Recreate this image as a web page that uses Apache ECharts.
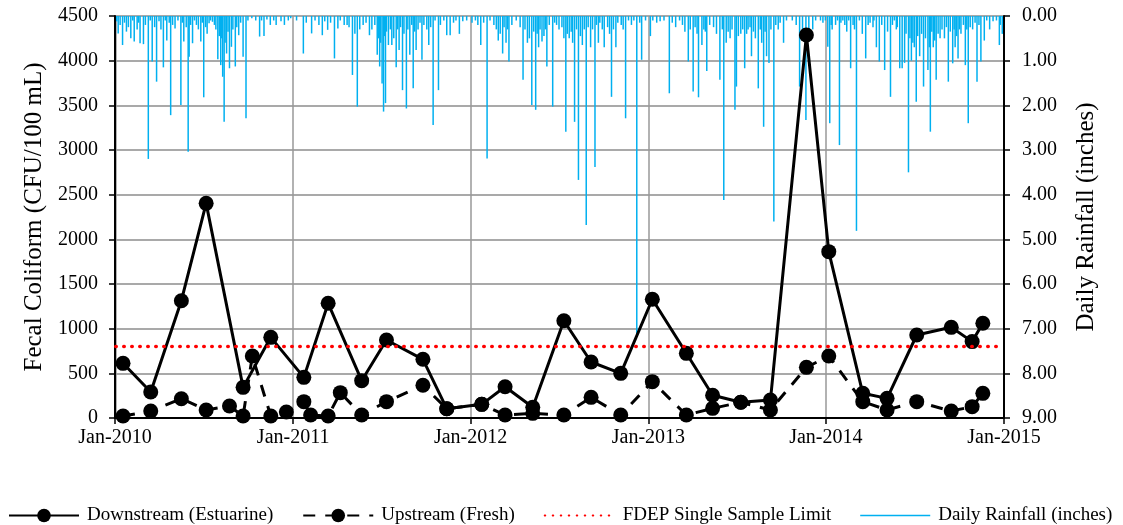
<!DOCTYPE html>
<html>
<head>
<meta charset="utf-8">
<script src="https://cdn.jsdelivr.net/npm/echarts@6/dist/echarts.min.js"></script>
<style>
html, body { margin: 0; padding: 0; background: #fff; }
#chart { width: 1123px; height: 525px; }
</style>
</head>
<body>
<div id="chart"></div>
<script>
// sampling dates and fecal coliform results (CFU/100 mL)
const downDates = ['2010-01-16','2010-03-14','2010-05-16','2010-07-06','2010-09-20','2010-11-16',
    '2011-01-23','2011-03-14','2011-05-22','2011-07-12','2011-09-25','2011-11-13',
    '2012-01-24','2012-03-12','2012-05-08','2012-07-11','2012-09-05','2012-11-05',
    '2013-01-09','2013-03-20','2013-05-13','2013-07-10','2013-09-09','2013-11-22',
    '2014-01-07','2014-03-18','2014-05-07','2014-07-07','2014-09-16','2014-10-29','2014-11-20'];
const downValues = [612, 291, 1313, 2403, 343, 903,
    455, 1284, 418, 873, 657, 104,
    153, 350, 120, 1089, 627, 500,
    1329, 724, 254, 176, 201, 4287,
    1862, 276, 220, 929, 1015, 855, 1060];

const upDates = ['2010-01-16','2010-03-14','2010-05-16','2010-07-06','2010-08-23','2010-09-20','2010-10-09',
    '2010-11-16','2010-12-18','2011-01-23','2011-02-06','2011-03-14','2011-04-08','2011-05-22',
    '2011-07-12','2011-09-25','2011-11-13','2012-01-24','2012-03-12','2012-05-08','2012-07-11',
    '2012-09-05','2012-11-05','2013-01-09','2013-03-20','2013-05-13','2013-07-10','2013-09-09',
    '2013-11-22','2014-01-07','2014-03-18','2014-05-07','2014-07-07','2014-09-16','2014-10-29','2014-11-20'];
const upValues = [22, 78, 216, 90, 134, 22, 694,
    22, 67, 183, 34, 22, 284, 34,
    183, 366, 104, 153, 34, 52, 34,
    231, 34, 407, 34, 108, 176, 90,
    567, 694, 183, 90, 183, 78, 127, 276];

const limitDates = ['2010-01-01', '2015-01-01'];
const limitValue = 800;

// daily rainfall: [days since 2010-01-01, inches]
const rainfall = [
    [2,0.12],[5,0.39],[9,0.2],[14,0.65],[18,0.15],[22,0.35],[26,0.25],[31,0.5],[35,0.1],[38,0.57],
    [44,0.3],[47,0.15],[50,0.61],[57,0.63],[61,0.2],[67,3.2],[71,0.1],[75,1.02],[80,0.25],[84,1.47],
    [89,0.12],[93,0.3],[98,1.15],[102,0.1],[105,0.55],[110,0.15],[113,2.22],[117,0.2],[122,0.28],[128,0.1],
    [134,1.99],[137,0.15],[140,0.57],[145,0.25],[149,3.04],[151,0.91],[154,0.2],[158,0.61],[162,0.1],[166,0.2],
    [170,0.3],[175,0.57],[178,0.15],[181,1.82],[185,0.25],[188,0.4],[192,0.16],[195,0.1],[199,0.13],[203,0.2],
    [206,0.3],[210,0.97],[213,0.45],[216,1.1],[218,0.5],[220,1.36],[223,2.37],[225,0.6],[228,0.84],[231,0.35],
    [234,1.17],[238,0.69],[241,0.3],[246,1.13],[249,0.25],[253,0.43],[257,0.15],[262,0.91],[268,2.29],[272,0.1],
    [280,0.05],[288,0.1],[296,0.46],[300,0.1],[305,0.45],[311,0.08],[318,0.2],[325,0.1],[330,0.2],[340,0.12],
    [347,0.2],[355,0.1],[360,0.05],
    [372,0.1],[386,0.84],[392,0.15],[403,0.39],[410,0.1],[418,0.2],[425,0.43],[430,0.12],[436,0.31],[442,0.15],
    [450,0.95],[457,0.28],[462,0.1],[470,0.2],[476,0.2],[480,0.25],[487,1.32],[492,0.4],[497,2.03],[502,0.3],
    [509,0.2],[515,0.15],[522,0.43],[527,0.3],[533,0.2],[538,0.87],[541,0.5],[543,1.13],[545,0.6],[548,1.51],
    [551,2.14],[553,0.45],[555,1.95],[557,0.35],[561,0.65],[565,0.3],[568,0.65],[572,0.5],[577,1.15],[580,0.3],
    [583,0.76],[586,0.25],[590,1.66],[593,0.4],[598,2.07],[601,0.3],[605,0.87],[609,0.2],[612,1.62],[615,0.35],
    [618,0.76],[622,0.3],[626,0.15],[630,0.98],[634,0.2],[640,0.3],[644,0.65],[648,0.25],[653,2.44],[657,0.1],
    [664,1.66],[668,0.2],[675,0.1],[681,0.43],[688,0.43],[695,0.15],[700,0.1],[707,0.4],[714,0.12],[722,0.1],
    [733,0.15],[740,0.1],[745,0.2],[751,0.65],[757,0.15],[764,3.19],[770,0.1],[778,0.2],[783,0.3],[787,0.55],
    [791,0.4],[796,0.84],[799,0.25],[803,0.6],[806,0.3],[809,1.02],[815,0.2],[824,0.1],[832,0.25],[838,1.43],
    [842,0.3],[847,0.6],[851,0.5],[856,1.99],[860,0.35],[864,2.1],[867,0.4],[870,0.7],[873,0.3],[877,0.57],
    [881,0.45],[884,0.3],[887,1.13],[892,0.2],[899,2.03],[903,0.15],[907,0.2],[912,0.3],[918,0.25],[922,0.5],
    [926,2.59],[929,0.4],[933,0.5],[937,0.35],[940,0.6],[944,2.37],[948,0.3],[952,3.67],[956,0.45],[960,0.65],
    [964,0.3],[968,4.68],[972,0.25],[977,0.7],[981,0.3],[986,3.38],[989,0.2],[993,0.6],[996,0.15],[1001,0.3],
    [1005,0.7],[1012,0.25],[1016,0.4],[1020,1.81],[1024,0.3],[1029,0.7],[1033,0.15],[1040,0.2],[1044,0.3],[1049,2.29],
    [1055,0.1],[1061,0.2],[1066,0.1],[1072,7.18],[1078,0.15],[1082,0.98],[1090,0.1],
    [1100,0.45],[1105,0.1],[1113,0.15],[1120,0.12],[1128,0.1],[1139,1.73],[1145,0.15],[1152,0.25],[1160,0.1],[1166,0.2],
    [1171,0.35],[1178,1.02],[1182,0.3],[1188,1.69],[1192,0.25],[1196,0.4],[1199,1.82],[1206,0.65],[1210,0.3],[1213,0.35],
    [1216,1.23],[1222,0.2],[1230,0.25],[1236,0.4],[1243,1.43],[1248,0.3],[1251,4.12],[1256,0.6],[1260,0.35],[1264,0.5],
    [1268,0.3],[1274,2.1],[1277,1.58],[1281,0.45],[1286,0.4],[1290,0.3],[1294,1.17],[1298,0.4],[1301,0.3],[1305,0.25],
    [1308,0.9],[1312,0.35],[1316,0.5],[1322,1.62],[1326,0.3],[1329,0.6],[1333,2.48],[1336,0.35],[1339,0.9],[1344,1.05],
    [1348,0.3],[1354,4.6],[1358,0.2],[1363,0.3],[1367,0.15],[1374,0.6],[1380,0.1],[1392,0.1],[1400,0.2],[1407,1.58],
    [1413,0.3],[1420,2.33],[1426,0.5],[1434,0.3],[1440,0.1],[1450,0.1],
    [1455,0.15],[1460,0.1],[1465,0.69],[1469,2.4],[1472,0.2],[1474,0.3],[1481,0.2],[1485,0.1],[1489,2.89],[1492,0.15],
    [1496,0.1],[1500,0.2],[1504,0.35],[1508,0.1],[1512,1.17],[1517,0.2],[1520,0.3],[1524,4.81],[1530,0.1],[1536,0.4],
    [1543,0.95],[1548,0.2],[1552,0.15],[1558,0.25],[1560,0.1],[1565,0.7],[1571,1.02],[1576,0.2],[1582,1.21],[1588,0.35],
    [1594,1.81],[1598,0.2],[1602,0.1],[1606,0.3],[1608,0.25],[1613,1.17],[1618,1.17],[1623,1.05],[1626,0.4],[1631,3.5],
    [1634,0.5],[1637,1.0],[1640,0.6],[1643,0.7],[1647,1.92],[1650,0.45],[1654,0.9],[1658,0.4],[1662,1.58],[1666,0.5],
    [1671,1.21],[1674,0.7],[1676,2.59],[1679,0.35],[1682,0.7],[1685,0.55],[1688,1.43],[1692,0.4],[1696,0.5],[1700,0.3],
    [1705,0.5],[1709,0.25],[1713,1.47],[1717,0.35],[1722,1.06],[1725,0.3],[1727,0.7],[1730,0.45],[1733,0.95],[1736,0.3],
    [1739,0.4],[1744,0.2],[1748,1.1],[1751,0.3],[1754,2.4],[1758,0.25],[1763,0.3],[1768,0.15],[1772,1.47],[1776,0.2],
    [1780,1.02],[1787,0.55],[1792,0.1],[1798,0.3],[1805,0.12],[1812,0.1],[1818,0.65],[1820,0.2],[1824,0.4]
];

const leftTicks = { min: 0, max: 4500, interval: 500 };
const rightTicks = { min: 0, max: 9, interval: 1 };

function initChart() {
    const chartDom = document.getElementById('chart');
    const chart = echarts.init(chartDom);
    const font = 'Liberation Serif';

    const zip = (dates, values) => dates.map((d, i) => [d, values[i]]);
    const rainData = rainfall.map(r => [new Date(2010, 0, 1 + r[0]), r[1]]);
    const DAY = 24 * 3600 * 1000;
    const YEAR = 365 * DAY;

    const option = {
        animation: false,
        backgroundColor: '#fff',
        textStyle: { fontFamily: font, color: '#000' },
        grid: { left: 115, right: 119, top: 16, bottom: 107 },
        legend: {
            left: 3,
            top: 501,
            itemWidth: 70,
            itemHeight: 17,
            itemGap: 29,
            textStyle: { fontFamily: font, fontSize: 19, color: '#000', padding: [0, 0, 0, 3] },
            data: [
                { name: 'Downstream (Estuarine)' },
                { name: 'Upstream (Fresh)' },
                { name: 'FDEP Single Sample Limit', itemStyle: { opacity: 0 } },
                { name: 'Daily Rainfall (inches)', icon: 'path://M0,0H60V1.2H0Z' }
            ]
        },
        xAxis: {
            type: 'time',
            min: '2010-01-01',
            max: '2015-01-01',
            minInterval: YEAR,
            maxInterval: YEAR + 2 * DAY,
            axisLine: { lineStyle: { color: '#000', width: 2 } },
            axisTick: { show: true, length: 6, lineStyle: { color: '#000', width: 1.5 } },
            axisLabel: {
                fontFamily: font, fontSize: 20, color: '#000', margin: 10,
                showMinLabel: true, showMaxLabel: true,
                formatter: val => 'Jan-' + Math.round(1970 + val / (365.2425 * DAY))
            },
            splitLine: { show: true, lineStyle: { color: '#999', width: 1.5 } }
        },
        yAxis: [{
            type: 'value',
            min: leftTicks.min, max: leftTicks.max, interval: leftTicks.interval,
            name: 'Fecal Coliform (CFU/100 mL)',
            nameLocation: 'middle',
            nameGap: 66,
            nameTextStyle: { fontFamily: font, fontSize: 25, color: '#000' },
            axisLine: { show: true, lineStyle: { color: '#000', width: 2 } },
            axisTick: { show: true, length: 6, lineStyle: { color: '#000', width: 1.5 } },
            axisLabel: { fontFamily: font, fontSize: 20, color: '#000', margin: 17, formatter: v => String(v) },
            splitLine: { lineStyle: { color: '#8c8c8c', width: 1.5 } }
        }, {
            type: 'value',
            position: 'right',
            inverse: true,
            min: rightTicks.min, max: rightTicks.max, interval: rightTicks.interval,
            name: 'Daily Rainfall (inches)',
            nameLocation: 'middle',
            nameGap: 70,
            nameRotate: 90,
            nameTextStyle: { fontFamily: font, fontSize: 25, color: '#000' },
            axisLine: { show: true, lineStyle: { color: '#000', width: 2 } },
            axisTick: { show: true, length: 6, lineStyle: { color: '#000', width: 1.5 } },
            axisLabel: {
                fontFamily: font, fontSize: 20, color: '#000', margin: 18,
                formatter: v => v.toFixed(2)
            },
            splitLine: { show: false }
        }],
        series: [{
            name: 'Daily Rainfall (inches)',
            type: 'bar',
            yAxisIndex: 1,
            data: rainData,
            barWidth: 1.5,
            itemStyle: { color: '#00b0f0' },
            z: 1
        }, {
            name: 'Downstream (Estuarine)',
            type: 'line',
            data: zip(downDates, downValues),
            symbol: 'circle',
            symbolSize: 15,
            itemStyle: { color: '#000' },
            lineStyle: { color: '#000', width: 3 },
            z: 3
        }, {
            name: 'Upstream (Fresh)',
            type: 'line',
            data: zip(upDates, upValues),
            symbol: 'circle',
            symbolSize: 15,
            itemStyle: { color: '#000' },
            lineStyle: { color: '#000', width: 3, type: [12, 10] },
            z: 3
        }, {
            name: 'FDEP Single Sample Limit',
            type: 'line',
            data: limitDates.map(d => [d, limitValue]),
            symbol: 'none',
            itemStyle: { color: '#ff0000' },
            lineStyle: { color: '#ff0000', width: 3.5, type: [0.5, 7.5], cap: 'round' },
            z: 4
        }]
    };

    chart.setOption(option);
    window.addEventListener('resize', chart.resize);
}

document.addEventListener('DOMContentLoaded', initChart);
</script>
</body>
</html>
